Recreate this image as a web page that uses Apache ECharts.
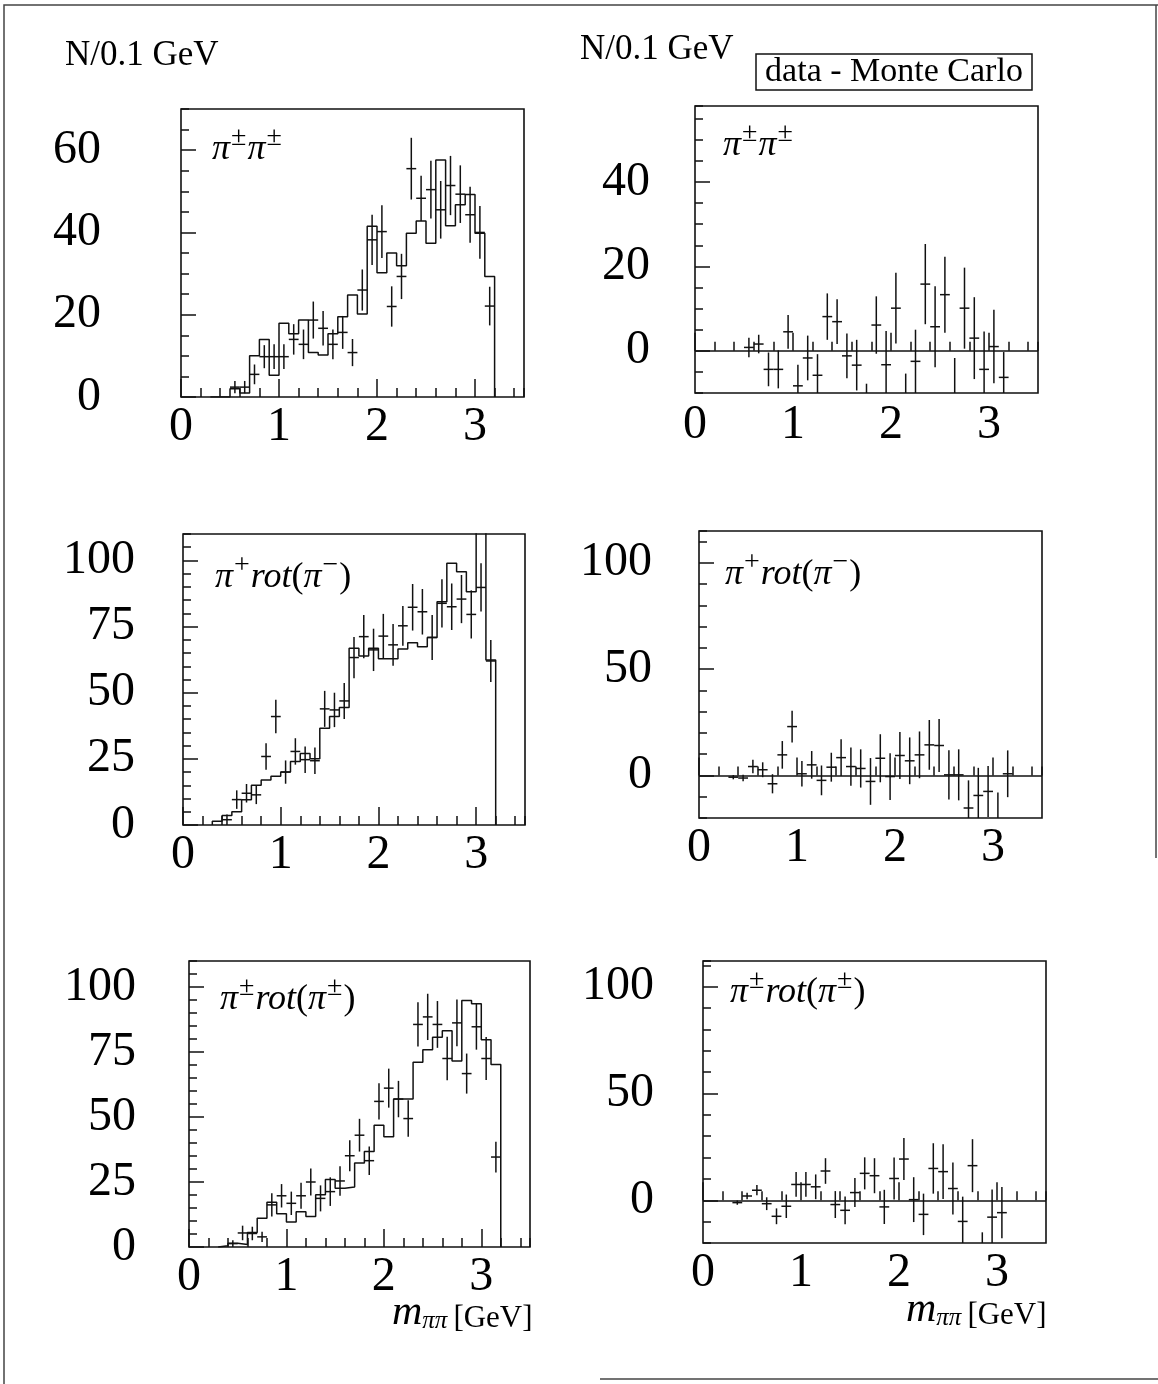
<!DOCTYPE html>
<html><head><meta charset="utf-8">
<script src="https://cdn.jsdelivr.net/npm/echarts@6/dist/echarts.min.js"></script>
<style>html,body{margin:0;padding:0;background:#fff}#c{width:1158px;height:1384px}</style>
</head><body><div id="c"></div>
<script>
// ---------- data (m_pipi in GeV, 0.1 GeV bins) ----------
const binCenters = [0.35,0.45,0.55,0.65,0.75,0.85,0.95,1.05,1.15,1.25,1.35,1.45,1.55,1.65,1.75,1.85,1.95,2.05,2.15,2.25,2.35,2.45,2.55,2.65,2.75,2.85,2.95,3.05,3.15];
const binEdges = [0.3,0.4,0.5,0.6,0.7,0.8,0.9,1.0,1.1,1.2,1.3,1.4,1.5,1.6,1.7,1.8,1.9,2.0,2.1,2.2,2.3,2.4,2.5,2.6,2.7,2.8,2.9,3.0,3.1,3.2];
const binWidth = 0.1;
const xTicks = [0,1,2,3];

// pi+- pi+-
const mcSame   = [0,0,2,1,10,14,5.3,17.9,15.4,18.7,10.8,10.2,15.4,19.5,24.8,20.2,41.5,30.2,35,31.9,39.8,42.8,37.4,57.6,41.6,46.7,49.2,39.8,29.3];
const dataSame = [null,null,2.4,2.4,5.5,9.8,9.8,9.8,14,12.8,18.7,16.7,12.8,15.7,10.8,26,38.2,40.2,22,29.3,55.5,48.3,50.4,45.5,51.4,49.3,44.3,40,22.1];
const errSame  = [null,null,1.5,1.5,2.4,2.8,3,3,3.7,3.6,4.5,4.2,3.6,4,3.3,5,6.1,6.4,4.9,5.5,7.5,5.5,7,7,7.2,7,6.8,6.4,4.7];
const diffSame = [null,null,0.8,1.6,-4.4,-4.4,4.5,-8.3,-1.7,-5.8,8.1,6.9,-1.2,-3.4,-14,6.1,-3.3,10.1,-13,-2.5,15.8,5.7,13.3,-12,10.1,3,-4.4,1,-6.3];
const dErrSame = [null,null,2.3,2.2,4,4.5,4,5,5.3,5,5.5,5.3,5.3,6,6.2,6.8,8,8.4,7.6,7.5,9.5,9.6,9,10.3,9.6,9.7,9,8.7,6];

// pi+ rot(pi-)
const mcOpp    = [1.4,3.6,5,9.5,15,17,18.4,20,24,27,25,36.6,41,44.4,66.8,63.9,66.8,62.8,62.8,66.5,68.9,67.4,70.9,84.4,98.9,95.7,88.2,113,62.4];
const dataOpp  = [null,2,9.6,12,11.4,25.9,41,20,27.8,24.7,24.3,43.9,43.5,46.9,63.3,71.2,66.2,71.4,68.1,75.3,82.3,80.6,70.9,83.8,82.5,85.4,79.6,89.8,62];
const errOpp   = [null,2,3.5,3.5,3.5,5,6.3,4.4,5,5,5,6.8,6.5,6.8,7.8,8.2,8,8.4,7.9,7.5,8.8,8.6,8.5,9.1,8.8,9.1,9.1,9.1,7.9];
const diffOpp  = [-0.8,-1.2,4.2,2.7,-3.9,9.7,23,0.8,5,-2.3,3.9,8.4,4.2,3.3,-2.8,8.1,-0.5,9.4,6.9,9.7,14.4,14.1,0.3,0.3,-15.3,-9.4,-7.5,-22,0.8];
const dErrOpp  = [1,1.5,3.2,3.5,4.5,6.5,7.5,6,6.5,7,6.8,8.7,9,9,11,11.3,11,11,11,11,11.7,12.5,11.6,12,13,13,12,14,11];

// pi+- rot(pi+-)
const mcRot    = [0.5,1.4,1,5.6,11.1,17.2,12.8,9.6,13.6,11.7,20.1,26,22.6,23.1,32.3,36.7,46.8,42.4,56.9,56.9,71.1,75.9,80.7,83.2,71.5,94.8,93.6,79.7,70.2];
const dataRot  = [null,1.3,5.4,5.2,3.9,16.2,19.7,16.8,19.7,25,18.7,21.3,25.4,35.1,43,33.2,56,61.1,56.9,49.4,85.6,88.5,85.6,72.5,86.2,66.7,84.7,72.5,34.6];
const errRot   = [null,1.3,2.8,2.6,2,4.5,4.5,4.5,5,5.2,5,5.5,5.7,6,6.3,5.5,7,7.5,7,7,8.5,8.9,9,8.4,9,7.7,8.8,8.3,5.9];
const diffRot  = [-1.1,2,4.7,-1.6,-7.5,-2.8,7.4,7.4,6.3,13.7,-2,-4.7,3.6,12.6,11.5,-3.1,10.2,19.3,0.3,-6.6,14.9,13.4,5.5,-9.9,16.2,-28,-7.9,-5.8,-35];
const dErrRot  = [1,1.5,2.4,3,3.7,5.5,5.8,5.8,5.8,6,6.3,6.5,6.8,7.5,8.2,8,9.8,9.8,10.5,9.7,11.8,12.8,12.2,11.6,12.4,13,13,12,9];

// y tick labels
const yTicksTL = [0,20,40,60];
const yTicksTR = [0,20,40];
const yTicksL  = [0,25,50,75,100];
const yTicksR  = [0,50,100];

// ---------- layout ----------
const SERIF = "'Liberation Serif','Times New Roman',serif";
const INK = '#111';
const panels = [
  {left:181, top:109, width:343, height:288, yMin:0,   yMax:70,  yTicks:yTicksTL, yMinor:5,  yMargin:80, xMargin:6, mc:mcSame, v:dataSame, e:errSame},
  {left:695, top:106, width:343, height:287, yMin:-10, yMax:58,  yTicks:yTicksTR, yMinor:5,  yMargin:45, xMargin:8, zero:true, v:diffSame, e:dErrSame},
  {left:183, top:534, width:342, height:291, yMin:0,   yMax:110, yTicks:yTicksL,  yMinor:5,  yMargin:48, xMargin:6, mc:mcOpp, v:dataOpp, e:errOpp},
  {left:699, top:531, width:343, height:287, yMin:-20, yMax:115, yTicks:yTicksR,  yMinor:10, yMargin:47, xMargin:6, zero:true, v:diffOpp, e:dErrOpp},
  {left:189, top:961, width:341, height:286, yMin:0,   yMax:110, yTicks:yTicksL,  yMinor:5,  yMargin:53, xMargin:6, mc:mcRot, v:dataRot, e:errRot},
  {left:703, top:961, width:343, height:282, yMin:-20, yMax:112, yTicks:yTicksR,  yMinor:10, yMargin:49, xMargin:6, zero:true, v:diffRot, e:dErrRot}
];

function histPoints(mc){
  const pts = [[binEdges[0], 0]];
  mc.forEach((val, i) => pts.push([binEdges[i], val]));
  pts.push([binEdges[binEdges.length-1], 0]);
  return pts;
}
function errPoints(v, e){
  const out = [];
  binCenters.forEach((x, i) => { if (v[i] !== null) out.push([x, v[i], e[i]]); });
  return out;
}
function errRender(params, api){
  const x = api.value(0), y = api.value(1), er = api.value(2);
  const cs = params.coordSys;
  const top = cs.y, bot = cs.y + cs.height;
  const cl = t => Math.max(top, Math.min(bot, t));
  const lo = api.coord([x, y - er]), hi = api.coord([x, y + er]);
  const l = api.coord([x - binWidth/2, y]), r = api.coord([x + binWidth/2, y]);
  const st = {stroke: INK, lineWidth: 1.5};
  const ch = [];
  const y1 = cl(lo[1]), y2 = cl(hi[1]);
  if (Math.abs(y1 - y2) > 0.5) ch.push({type:'line', shape:{x1:lo[0], y1:y1, x2:lo[0], y2:y2}, style:st});
  if (l[1] >= top && l[1] <= bot) ch.push({type:'line', shape:{x1:l[0], y1:l[1], x2:r[0], y2:r[1]}, style:st});
  return {type:'group', children:ch};
}

const grid = [], xAxis = [], yAxis = [], series = [];
const tickStyle = {color: INK, width: 1.5};
panels.forEach((p, i) => {
  grid.push({left:p.left, top:p.top, width:p.width, height:p.height, show:true, borderColor:INK, borderWidth:1.6, backgroundColor:'transparent'});
  xAxis.push({type:'value', gridIndex:i, min:0, max:3.5, position:'bottom', axisLine:{show:false}, splitLine:{show:false},
    axisTick:{show:true, inside:true, length:18, customValues:xTicks, lineStyle:tickStyle},
    axisLabel:{show:true, customValues:xTicks, margin:p.xMargin, fontSize:48, fontFamily:SERIF, color:'#000'}});
  xAxis.push({type:'value', gridIndex:i, min:0, max:3.5, interval:0.2, position:'bottom', axisLine:{show:false}, splitLine:{show:false},
    axisTick:{show:true, inside:true, length:9, lineStyle:tickStyle}, axisLabel:{show:false}});
  yAxis.push({type:'value', gridIndex:i, min:p.yMin, max:p.yMax, position:'left', axisLine:{show:false}, splitLine:{show:false},
    axisTick:{show:true, inside:true, length:15, customValues:p.yTicks, lineStyle:tickStyle},
    axisLabel:{show:true, customValues:p.yTicks, margin:p.yMargin, fontSize:48, fontFamily:SERIF, color:'#000'}});
  yAxis.push({type:'value', gridIndex:i, min:p.yMin, max:p.yMax, interval:p.yMinor, position:'left', axisLine:{show:false}, splitLine:{show:false},
    axisTick:{show:true, inside:true, length:8, lineStyle:tickStyle}, axisLabel:{show:false}});
  if (p.mc) {
    series.push({type:'line', xAxisIndex:2*i, yAxisIndex:2*i, data:histPoints(p.mc), step:'end', symbol:'none', showSymbol:false,
      lineStyle:{color:INK, width:1.5}, silent:true, clip:true, z:2});
  }
  const s = {type:'custom', xAxisIndex:2*i, yAxisIndex:2*i, data:errPoints(p.v, p.e), encode:{x:0, y:1},
    renderItem:errRender, clip:true, silent:true, z:3};
  if (p.zero) {
    s.markLine = {silent:true, symbol:['none','none'], label:{show:false}, lineStyle:{color:INK, width:1.5, type:'solid'}, data:[{yAxis:0}]};
  }
  series.push(s);
});

// ---------- text ----------
const richPanel = {
  m:{fontSize:36, fontStyle:'italic', fontFamily:SERIF, lineHeight:44, verticalAlign:'bottom', fill:'#000'},
  u:{fontSize:36, fontFamily:SERIF, lineHeight:44, verticalAlign:'bottom', fill:'#000'},
  s:{fontSize:28, fontFamily:SERIF, lineHeight:32, verticalAlign:'top', fill:'#000', padding:[0,1,0,1]}
};
const richTitle = {
  m:{fontSize:42, fontStyle:'italic', fontFamily:SERIF, lineHeight:46, verticalAlign:'bottom', fill:'#000'},
  sub:{fontSize:25, fontStyle:'italic', fontFamily:SERIF, lineHeight:20, verticalAlign:'bottom', fill:'#000'},
  g:{fontSize:31, fontFamily:SERIF, lineHeight:34, verticalAlign:'bottom', fill:'#000', padding:[0,0,0,6]}
};
const labSame = '{m|π}{s|±}{m|π}{s|±}';
const labOpp  = '{m|π}{s|+}{m|rot}{u|(}{m|π}{s|−}{u|)}';
const labRot  = '{m|π}{s|±}{m|rot}{u|(}{m|π}{s|±}{u|)}';
const titleX  = '{m|m}{sub|ππ}{g|[GeV]}';

function txt(x, y, text, rich){
  return {type:'text', x:x, y:y, silent:true, style:{text:text, rich:rich, textAlign:'left', textVerticalAlign:'top', fill:'#000'}};
}
const graphic = [
  {type:'polyline', silent:true, shape:{points:[[4,1384],[4,5],[1158,5]]}, style:{stroke:'#444', lineWidth:1.5, fill:null}},
  {type:'line', silent:true, shape:{x1:1156, y1:5, x2:1156, y2:858}, style:{stroke:'#444', lineWidth:1.5}},
  {type:'line', silent:true, shape:{x1:600, y1:1379, x2:1158, y2:1379}, style:{stroke:'#444', lineWidth:1.5}},
  {type:'text', x:65, y:56, silent:true, style:{text:'N/0.1 GeV', font:'35px '+SERIF, fill:'#000', textAlign:'left', textVerticalAlign:'middle'}},
  {type:'text', x:580, y:50, silent:true, style:{text:'N/0.1 GeV', font:'35px '+SERIF, fill:'#000', textAlign:'left', textVerticalAlign:'middle'}},
  {type:'rect', silent:true, shape:{x:756, y:54, width:276, height:36}, style:{stroke:INK, lineWidth:1.5, fill:'#fff'}},
  {type:'text', x:894, y:72, silent:true, style:{text:'data - Monte Carlo', font:'34px '+SERIF, fill:'#000', textAlign:'center', textVerticalAlign:'middle'}},
  txt(212, 124, labSame, richPanel),
  txt(723, 120, labSame, richPanel),
  txt(215, 552, labOpp, richPanel),
  txt(725, 549, labOpp, richPanel),
  txt(220, 974, labRot, richPanel),
  txt(730, 967, labRot, richPanel),
  txt(392, 1288, titleX, richTitle),
  txt(906, 1285, titleX, richTitle)
];

const chart = echarts.init(document.getElementById('c'), null, {renderer:'canvas', width:1158, height:1384});
chart.setOption({animation:false, backgroundColor:'#fff', grid, xAxis, yAxis, series, graphic});
</script></body></html>
